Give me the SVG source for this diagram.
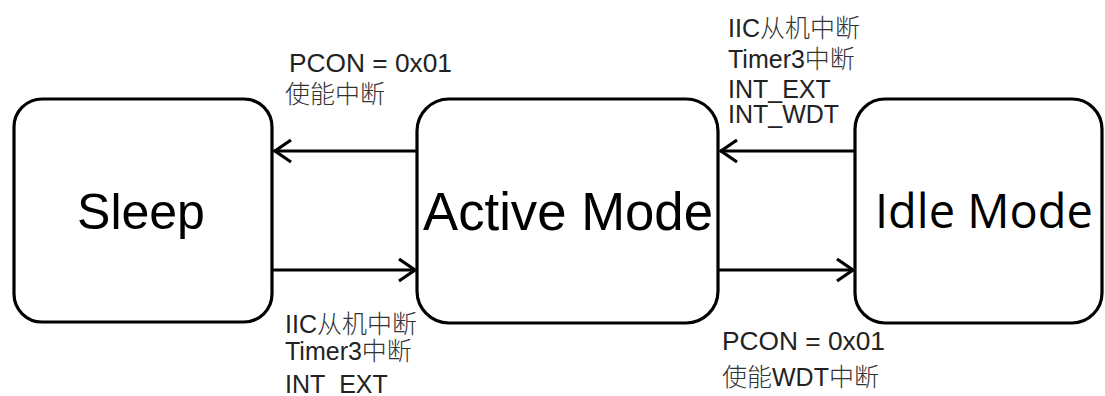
<svg xmlns="http://www.w3.org/2000/svg" width="1105" height="396" viewBox="0 0 1105 396">
<style>
.box{fill:#fff;stroke:#000;stroke-width:3.2}
.lbl{font-family:"Liberation Sans","Noto Sans CJK SC",sans-serif;font-size:25px;fill:#222}
.cjk{font-family:"Noto Sans CJK SC",sans-serif;font-weight:300;fill:#333}
.big{font-family:"Liberation Sans",Arial,sans-serif;fill:#000}
.conn{stroke:#000;stroke-width:3;fill:none}
.head{stroke:#000;stroke-width:3.2;fill:none;stroke-linecap:butt;stroke-linejoin:miter}
</style>
<rect width="1105" height="396" fill="#fff"/>
<g id="sleep">
<rect class="box" x="14" y="99" width="258" height="223" rx="28" ry="28"/>
<text class="big" x="141" y="229" font-size="50" text-anchor="middle">Sleep</text>
</g>
<g id="active">
<rect class="box" x="417" y="99" width="301" height="224" rx="32" ry="32"/>
<text class="big" x="568" y="230" font-size="54" text-anchor="middle" textLength="290" lengthAdjust="spacingAndGlyphs">Active Mode</text>
</g>
<g id="idle">
<rect class="box" x="855" y="99" width="247" height="224" rx="30" ry="30"/>
<text x="875" y="228" font-family="'Open Sans',sans-serif" font-size="48" fill="#000" textLength="218" lengthAdjust="spacingAndGlyphs">Idle Mode</text>
</g>
<g id="connectors">
<line class="conn" x1="417" y1="151" x2="274" y2="151"/>
<polyline class="head" points="291,140 275,151 291,162"/>
<line class="conn" x1="272" y1="270" x2="415" y2="270"/>
<polyline class="head" points="399,259 415,270 399,281"/>
<line class="conn" x1="855" y1="151" x2="720" y2="151"/>
<polyline class="head" points="737,140 721,151 737,162"/>
<line class="conn" x1="718" y1="270" x2="853" y2="270"/>
<polyline class="head" points="837,259 853,270 837,281"/>
</g>
<g id="label-active-sleep">
<text class="lbl" x="289" y="72" textLength="163" lengthAdjust="spacingAndGlyphs">PCON = 0x01</text>
<text class="lbl" x="285" y="103"><tspan class="cjk">使能中断</tspan></text>
</g>
<g id="label-sleep-active">
<text class="lbl" x="285" y="333">IIC<tspan class="cjk">从机中断</tspan></text>
<text class="lbl" x="285" y="360">Timer3<tspan class="cjk">中断</tspan></text>
<text class="lbl" x="285" y="393">INT_EXT</text>
</g>
<g id="label-idle-active">
<text class="lbl" x="728" y="37">IIC<tspan class="cjk">从机中断</tspan></text>
<text class="lbl" x="728" y="68">Timer3<tspan class="cjk">中断</tspan></text>
<text class="lbl" x="728" y="98">INT_EXT</text>
<text class="lbl" x="728" y="123">INT_WDT</text>
</g>
<g id="label-active-idle">
<text class="lbl" x="722" y="350" textLength="163" lengthAdjust="spacingAndGlyphs">PCON = 0x01</text>
<text class="lbl" x="722" y="386"><tspan class="cjk">使能</tspan>WDT<tspan class="cjk">中断</tspan></text>
</g>
</svg>
